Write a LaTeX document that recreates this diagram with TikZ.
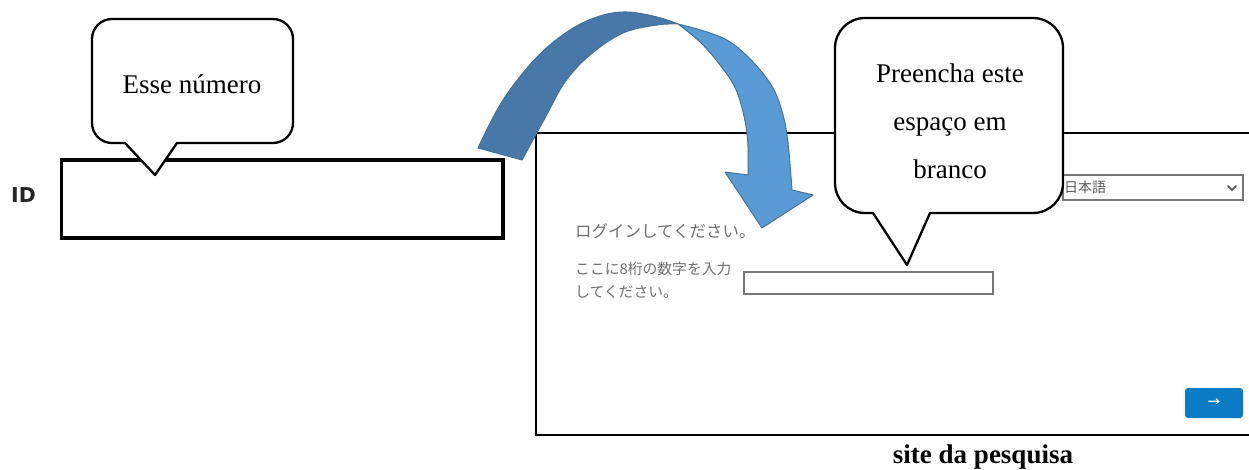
\documentclass[tikz,border=0pt]{standalone}
\usepackage{fontspec}
\setmainfont{Liberation Serif}
\newfontfamily\jpfont{Noto Sans CJK JP}
\newfontfamily\dvsfont{DejaVu Sans}
\definecolor{arrowdark}{HTML}{4878A8}
\definecolor{arrowlight}{HTML}{5B9BD5}
\definecolor{arrowedge}{HTML}{41719C}
\definecolor{jpgray}{HTML}{6E6E6E}
\definecolor{boxgray}{HTML}{767676}
\definecolor{btnblue}{HTML}{0B7BC5}
\begin{document}
\begin{tikzpicture}[x=1pt,y=-1pt,
  callout/.style={draw=black, fill=white, line width=2.3pt, line join=round},
  calltext/.style={font=\fontsize{27}{48}\selectfont, align=center, inner sep=0pt},
  jptext/.style={font=\jpfont, text=jpgray, anchor=west, inner sep=0pt},
  boxnode/.style={inner sep=0pt, outer sep=0pt, anchor=north west},
  band/.style={draw=arrowedge, line width=1pt, line join=round}]
\useasboundingbox (0,0) rectangle (1249,470);

% left side
\node[font=\dvsfont\bfseries\fontsize{20.5}{24}\selectfont, text=black!85] (idlabel) at (23.5,195.5) {ID};
\node[boxnode, draw=black, line width=3.5pt, minimum width=441.5pt, minimum height=78pt] (idbox) at (61.5,160) {};

% callout 1
\path[callout] (155,175) -- (125,143) -- (112,143) .. controls (101,143) and (92,134) .. (92,123)
  -- (92,39) .. controls (92,28) and (101,19) .. (112,19)
  -- (273,19) .. controls (284,19) and (293,28) .. (293,39)
  -- (293,123) .. controls (293,134) and (284,143) .. (273,143)
  -- (177,143) -- cycle;
\node[calltext] (c1text) at (192,84) {Esse número};

% screenshot panel
\draw[line width=2pt] (1252,133) -- (536,133) -- (536,435) -- (1252,435);
\node[jptext, font=\jpfont\fontsize{16.5}{20}\selectfont] (login) at (575,231) {ログインしてください。};
\node[jptext, font=\jpfont\fontsize{14.8}{23}\selectfont, align=left, anchor=north west] (instr) at (575,262) {ここに8桁の数字を入力\\してください。};
\node[boxnode, draw=boxgray, line width=1.6pt, minimum width=249pt, minimum height=22pt] (input) at (744,272) {};
\node[boxnode, draw=boxgray, line width=1.6pt, minimum width=180pt, minimum height=25pt] (lang) at (1063,175) {};
\node[jptext, font=\jpfont\fontsize{14}{16}\selectfont, text=black!65] (langtext) at (1064,187.5) {日本語};
\coordinate (chev) at (1232,188);
\draw[line width=1.6pt, black!70, line cap=round] ([xshift=-4pt,yshift=2pt]chev) -- ([yshift=-2pt]chev) -- ([xshift=4pt,yshift=2pt]chev);
\node[boxnode, fill=btnblue, rounded corners=3pt, minimum width=58pt, minimum height=30pt] (btn) at (1185,388) {};
\node[text=white, font=\dvsfont\fontsize{15}{16}\selectfont, inner sep=0pt] (btnarrow) at (btn.center) {→};
\node[font=\bfseries\fontsize{27}{30}\selectfont, inner sep=0pt] (caption) at (983,457) {site da pesquisa};

% curved arrow
\path[band, fill=arrowdark]
  plot[smooth, tension=0.6] coordinates {(478,148) (503,100) (537,57) (570,30) (600,16) (627,12) (657,17) (678,24)}
  -- plot[smooth, tension=0.6] coordinates {(678,24) (657,25) (623,33) (590,55) (565,82) (545,118) (522,160)}
  -- cycle;
\path[band, fill=arrowlight]
  plot[smooth, tension=0.6] coordinates {(678,24) (707,32) (730,42) (753,62) (773,88) (783,115) (788,143) (792,190)}
  -- (813,195) -- (762,228) -- (725,172) --
  plot[smooth, tension=0.6] coordinates {(748,175) (747,133) (737,92) (720,65) (700,42) (678,24)}
  -- cycle;

% callout 2
\path[callout] (907,265) -- (873,213) -- (865,213) .. controls (848.4,213) and (835,199.6) .. (835,183)
  -- (835,48) .. controls (835,31.4) and (848.4,18) .. (865,18)
  -- (1033,18) .. controls (1049.6,18) and (1063,31.4) .. (1063,48)
  -- (1063,183) .. controls (1063,199.6) and (1049.6,213) .. (1033,213)
  -- (930,213) -- cycle;
\node[calltext] (c2text) at (950,121) {Preencha este\\espaço em\\branco};
\end{tikzpicture}
\end{document}
